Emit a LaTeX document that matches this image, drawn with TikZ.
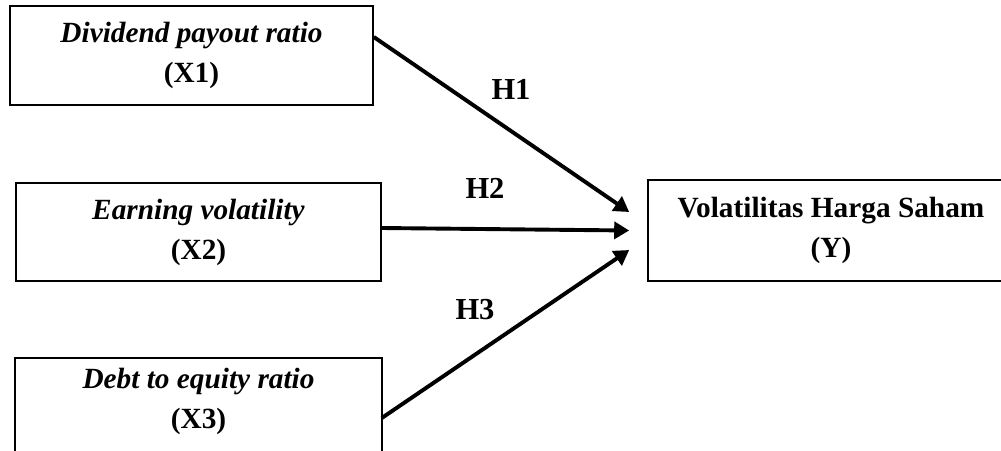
\documentclass[tikz,border=0pt]{standalone}
\usepackage{fontspec}
\setmainfont{Liberation Serif}
\usetikzlibrary{arrows.meta}

\tikzset{
  varbox/.style={draw=black, line width=1.6pt, align=center,
    font=\fontsize{29.3pt}{40pt}\selectfont\bfseries, inner sep=0pt},
  hyplabel/.style={font=\fontsize{30.5pt}{36pt}\selectfont\bfseries, inner sep=0pt},
  path/.style={line width=3.9pt, -{Triangle[length=15pt,width=17pt]}}
}

\begin{document}
\begin{tikzpicture}[x=1pt, y=-1pt]
  \useasboundingbox (0,0) rectangle (1001,450);

  % independent variables
  \node[varbox, minimum width=363pt, minimum height=99pt] (x1) at (191.5,55.5)
    {\textit{Dividend payout ratio}\\(X1)};
  \node[varbox, minimum width=365pt, minimum height=98pt] (x2) at (198.5,232)
    {\textit{Earning volatility}\\(X2)};
  \node[varbox, draw=none, minimum width=365pt, minimum height=84pt] (x3) at (198.5,401)
    {\textit{Debt to equity ratio}\\(X3)};
  % the third box runs past the lower edge of the page
  \draw[line width=1.6pt] ([yshift=-80pt]x3.south west) -- (x3.north west)
    -- (x3.north east) -- ([yshift=-80pt]x3.south east);

  % dependent variable (runs past the right edge)
  \node[varbox, minimum width=366pt, minimum height=101pt] (y) at (831,230.5)
    {Volatilitas Harga Saham\\(Y)};

  % arrow end points just left of the dependent box
  \coordinate (t1) at ([xshift=-18pt, yshift=18.5pt]y.west);
  \coordinate (t2) at ([xshift=-18pt]y.west);
  \coordinate (t3) at ([xshift=-18pt, yshift=-19.5pt]y.west);

  \draw[path] ([yshift=18.5pt]x1.east) -- (t1);
  \draw[path] ([yshift=4pt]x2.east) -- (t2);
  \draw[path] ([yshift=-17pt]x3.east) -- (t3);

  % hypothesis labels
  \node[hyplabel] (h1) at (511,89) {H1};
  \node[hyplabel] (h2) at (485,188) {H2};
  \node[hyplabel] (h3) at (475,310) {H3};
\end{tikzpicture}
\end{document}
